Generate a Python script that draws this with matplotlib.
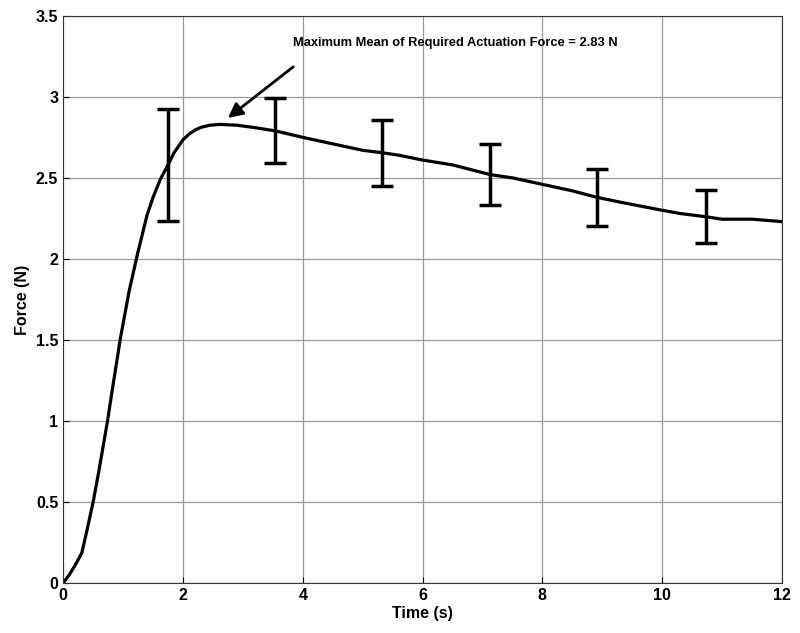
import matplotlib
matplotlib.use('Agg')
import matplotlib.pyplot as plt

plt.rcParams['font.family'] = ['Liberation Sans', 'DejaVu Sans']
plt.rcParams['font.weight'] = 'bold'

# mean force curve
t = [0, 0.1, 0.2, 0.31, 0.4, 0.5, 0.6, 0.74, 0.81, 0.9, 0.95, 1.1, 1.24, 1.4, 1.5, 1.62,
     1.75, 1.85, 2.0, 2.1, 2.2, 2.3, 2.45, 2.62, 2.9, 3.2, 3.54, 4.0, 4.5, 5.0, 5.33, 5.6,
     6.0, 6.5, 7.13, 7.5, 8.0, 8.5, 8.91, 9.3, 10.0, 10.3, 10.73, 11.0, 11.5, 12.0]
force = [0, 0.05, 0.11, 0.185, 0.33, 0.5, 0.7, 1.0, 1.17, 1.38, 1.5, 1.8, 2.03, 2.27, 2.38, 2.49,
         2.58, 2.655, 2.735, 2.77, 2.795, 2.812, 2.825, 2.83, 2.825, 2.81, 2.79, 2.75, 2.71, 2.67, 2.655, 2.64,
         2.61, 2.58, 2.52, 2.50, 2.46, 2.42, 2.38, 2.35, 2.30, 2.28, 2.26, 2.245, 2.245, 2.23]

# error bars
eb_t = [1.75, 3.54, 5.33, 7.13, 8.91, 10.73]
eb_top = [2.926, 2.994, 2.858, 2.71, 2.553, 2.428]
eb_bot = [2.235, 2.593, 2.452, 2.335, 2.204, 2.10]
eb_mid = [(a + b) / 2 for a, b in zip(eb_top, eb_bot)]
eb_err = [(a - b) / 2 for a, b in zip(eb_top, eb_bot)]

fig = plt.figure(figsize=(8, 6.33), dpi=100)
ax = fig.add_axes([0.079, 0.079, 0.8985, 0.896])

ax.plot(t, force, '-', color='black', lw=2.3, solid_joinstyle='round')
ax.errorbar(eb_t, eb_mid, yerr=eb_err, fmt='none', ecolor='black',
            elinewidth=2.5, capsize=8, capthick=2.5)

# arrow and label
ax.annotate('', xy=(2.75, 2.87), xytext=(3.84, 3.185),
            arrowprops=dict(arrowstyle='-|>', color='black', lw=2,
                            mutation_scale=22, shrinkA=0, shrinkB=0))
ax.text(3.83, 3.33, 'Maximum Mean of Required Actuation Force = 2.83 N',
        fontsize=9.3, fontweight='bold', ha='left', va='center')

ax.set_xlim(0, 12)
ax.set_ylim(0, 3.5)
ax.set_xticks([0, 2, 4, 6, 8, 10, 12])
ax.set_yticks([0, 0.5, 1, 1.5, 2, 2.5, 3, 3.5])
ax.set_yticklabels(['0', '0.5', '1', '1.5', '2', '2.5', '3', '3.5'])
ax.grid(True, color='#999999', lw=0.9)
ax.set_axisbelow(True)
ax.tick_params(labelsize=11.5, direction='in', length=4)
for lab in ax.get_xticklabels() + ax.get_yticklabels():
    lab.set_fontweight('bold')
ax.set_xlabel('Time (s)', fontsize=11.5, fontweight='bold', labelpad=2)
ax.set_ylabel('Force (N)', fontsize=11.5, fontweight='bold')
for s in ax.spines.values():
    s.set_color('#333333')

fig.savefig('out.png', dpi=100)
